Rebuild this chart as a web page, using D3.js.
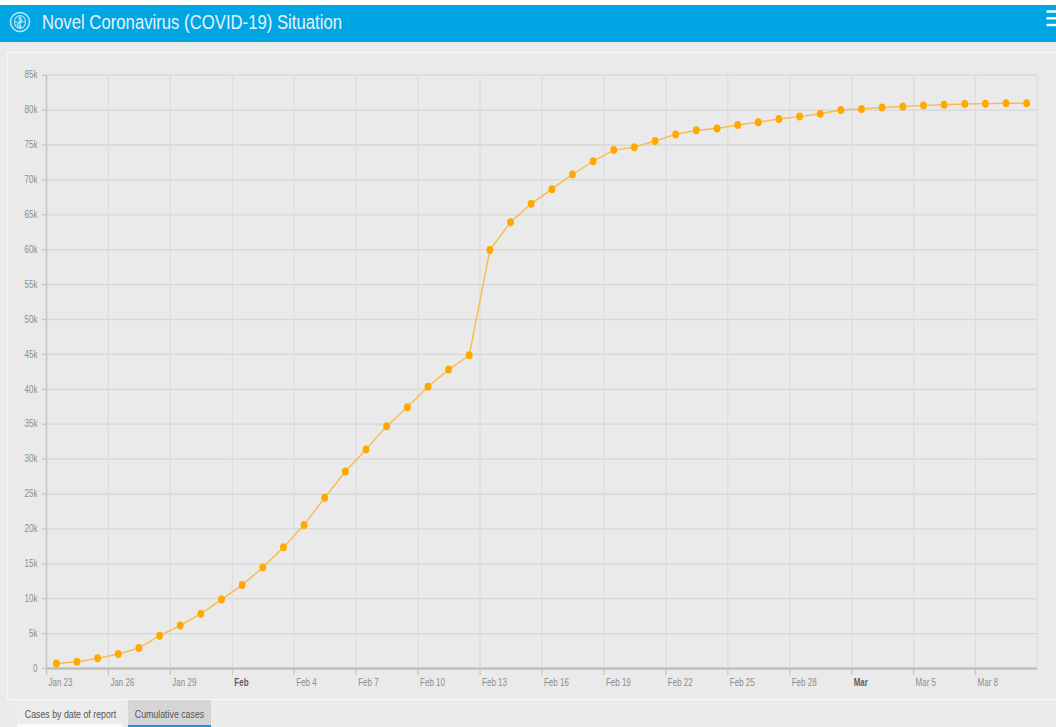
<!DOCTYPE html>
<html>
<head>
<meta charset="utf-8">
<script src="https://cdn.jsdelivr.net/npm/d3@7"></script>
<style>
  html, body { margin: 0; padding: 0; background: #ebebeb; }
  svg { display: block; }
  .cond { font-family: 'Liberation Sans', Arial, sans-serif; }
</style>
</head>
<body>
<svg id="chart" width="1056" height="727"></svg>
<script>
// ---------- data ----------
const dates = [
  "2020-01-23","2020-01-24","2020-01-25","2020-01-26","2020-01-27","2020-01-28","2020-01-29","2020-01-30","2020-01-31",
  "2020-02-01","2020-02-02","2020-02-03","2020-02-04","2020-02-05","2020-02-06","2020-02-07","2020-02-08","2020-02-09",
  "2020-02-10","2020-02-11","2020-02-12","2020-02-13","2020-02-14","2020-02-15","2020-02-16","2020-02-17","2020-02-18",
  "2020-02-19","2020-02-20","2020-02-21","2020-02-22","2020-02-23","2020-02-24","2020-02-25","2020-02-26","2020-02-27",
  "2020-02-28","2020-02-29","2020-03-01","2020-03-02","2020-03-03","2020-03-04","2020-03-05","2020-03-06","2020-03-07",
  "2020-03-08","2020-03-09","2020-03-10"
];
const cumulativeCases = [
  640, 900, 1380, 2000, 2850, 4620, 6100, 7760, 9800,
  11900, 14400, 17300, 20500, 24400, 28150, 31300, 34650, 37350,
  40300, 42750, 44800, 59900, 63850, 66500, 68600, 70700, 72600,
  74200, 74600, 75500, 76450, 77050, 77300, 77800, 78200, 78650,
  79000, 79400, 79950, 80100, 80300, 80450, 80600, 80700, 80800,
  80850, 80900, 80920
];
const xTickDates = ["2020-01-23","2020-01-26","2020-01-29","2020-02-01","2020-02-04","2020-02-07","2020-02-10",
  "2020-02-13","2020-02-16","2020-02-19","2020-02-22","2020-02-25","2020-02-28","2020-03-02","2020-03-05","2020-03-08"];
const xTickLabels = ["Jan 23","Jan 26","Jan 29","Feb","Feb 4","Feb 7","Feb 10","Feb 13","Feb 16","Feb 19",
  "Feb 22","Feb 25","Feb 28","Mar","Mar 5","Mar 8"];
const yTickValues = [0,5000,10000,15000,20000,25000,30000,35000,40000,45000,50000,55000,60000,65000,70000,75000,80000,85000];
const yTickLabels = ["0","5k","10k","15k","20k","25k","30k","35k","40k","45k","50k","55k","60k","65k","70k","75k","80k","85k"];
const monthLabels = ["Feb","Mar"];
const title = "Novel Coronavirus (COVID-19) Situation";
const tabs = ["Cases by date of report","Cumulative cases"];

// ---------- setup ----------
const svg = d3.select("#chart");
const W = 1056, H = 727;
const parse = d3.utcParse("%Y-%m-%d");
const HALF_DAY = 12 * 3600 * 1000;
const SX = 0.8; // horizontal squeeze to mimic a condensed face

// page background
svg.append("rect").attr("x",0).attr("y",0).attr("width",W).attr("height",H).attr("fill","#ebebeb");
svg.append("rect").attr("x",0).attr("y",0).attr("width",W).attr("height",5).attr("fill","#ffffff");

// header
svg.append("rect").attr("x",0).attr("y",5).attr("width",W).attr("height",37).attr("fill","#00a5e3");
// WHO emblem (simplified)
const logo = svg.append("g").attr("transform","translate(20,22)").attr("fill","none").attr("stroke","#e6f5fc").attr("opacity",0.8);
logo.append("circle").attr("r",9.5).attr("stroke-width",1.6);
logo.append("ellipse").attr("rx",5.5).attr("ry",6.5).attr("stroke-width",1.1);
logo.append("line").attr("x1",0).attr("y1",-7).attr("x2",0).attr("y2",7).attr("stroke-width",1.4);
logo.append("path").attr("d","M-2,-4 C3,-3 3,0 -1,1 C-4,2 -3,5 2,5").attr("stroke-width",1.2);
logo.append("line").attr("x1",-6).attr("y1",0).attr("x2",6).attr("y2",0).attr("stroke-width",0.9);
svg.append("text").attr("class","cond").attr("x",42).attr("y",28.5)
  .attr("font-size",20).attr("fill","#e4f4fc")
  .attr("textLength",300).attr("lengthAdjust","spacingAndGlyphs").text(title);
// hamburger
[11.5,18.3,25].forEach(y => {
  svg.append("rect").attr("x",1046.5).attr("y",y-1.2).attr("width",12).attr("height",2.4).attr("fill","#ffffff");
});

// panel
svg.append("rect").attr("x",7.5).attr("y",52.5).attr("width",1060).attr("height",647)
  .attr("fill","#eaeaea").attr("stroke","#f6f6f6").attr("stroke-width",1.2);

// ---------- scales ----------
const plotLeft = 46, plotRight = 1037, plotTop = 74.7, plotBottom = 668;
const x = d3.scaleUtc()
  .domain([parse("2020-01-23"), parse("2020-03-11")])
  .range([plotLeft, plotRight]);
const y = d3.scaleLinear().domain([0, 85000]).range([plotBottom, plotTop]);

// gridlines (horizontal)
const gy = svg.append("g").attr("transform",`translate(${plotLeft},0)`)
  .call(d3.axisLeft(y).tickValues(yTickValues).tickSize(-(plotRight-plotLeft)).tickFormat(""));
gy.select(".domain").remove();
gy.selectAll("line").attr("stroke","#d6d6d6").attr("stroke-width",1.3);

// gridlines (vertical)
const gx = svg.append("g").attr("transform",`translate(0,${plotBottom})`)
  .call(d3.axisBottom(x).tickValues(xTickDates.map(parse)).tickSize(-(plotBottom-plotTop)).tickFormat(""));
gx.select(".domain").remove();
gx.selectAll("line").attr("stroke","#dcdcdc").attr("stroke-width",1.2);

// right edge line
svg.append("line").attr("x1",plotRight).attr("x2",plotRight).attr("y1",plotTop).attr("y2",plotBottom)
  .attr("stroke","#dcdcdc").attr("stroke-width",1.2);

// y axis
const yAxis = svg.append("g").attr("transform",`translate(${plotLeft},0)`)
  .call(d3.axisLeft(y).tickValues(yTickValues).tickSize(4).tickPadding(4)
    .tickFormat((d,i) => yTickLabels[i]));
yAxis.select(".domain").attr("stroke","#c4c4c4").attr("stroke-width",1.5).attr("d",`M0.5,${plotTop}V${plotBottom}`);
yAxis.selectAll("line").attr("stroke","#c4c4c4").attr("stroke-width",1.2);
yAxis.selectAll("text").attr("class","cond").attr("font-size",10).attr("fill","#8c8c8c")
  .attr("x",-8.5/SX).attr("transform",`scale(${SX},1)`);

// x axis
const xAxis = svg.append("g").attr("transform",`translate(0,${plotBottom})`)
  .call(d3.axisBottom(x).tickValues(xTickDates.map(parse)).tickSize(7).tickPadding(3)
    .tickFormat((d,i) => xTickLabels[i]));
xAxis.select(".domain").attr("stroke","#b9b9b9").attr("stroke-width",1.8).attr("d",`M${plotLeft},0.5H${plotRight}`);
xAxis.selectAll("line").attr("stroke","#c4c4c4").attr("stroke-width",1.2);
xAxis.selectAll("text").attr("class","cond").attr("font-size",10)
  .attr("text-anchor","start").attr("x",2/SX).attr("dy","0.85em")
  .attr("transform",`scale(${SX},1)`)
  .attr("fill",(d,i) => monthLabels.includes(xTickLabels[i]) ? "#5e5e5e" : "#8c8c8c")
  .attr("font-weight",(d,i) => monthLabels.includes(xTickLabels[i]) ? "bold" : "normal");

// ---------- series ----------
const series = dates.map((d,i) => ({ date: new Date(parse(d).getTime() + HALF_DAY), value: cumulativeCases[i] }));
const line = d3.line().x(d => x(d.date)).y(d => y(d.value));
svg.append("path").datum(series).attr("d",line)
  .attr("fill","none").attr("stroke","#f9bb48").attr("stroke-width",1.4);
svg.append("g").selectAll("ellipse").data(series).join("ellipse")
  .attr("cx",d => x(d.date)).attr("cy",d => y(d.value))
  .attr("rx",3.4).attr("ry",4).attr("fill","#ffa800");

// ---------- tabs ----------
const tabG = svg.append("g");
tabG.append("rect").attr("x",17).attr("y",701).attr("width",106).attr("height",26).attr("fill","#ececec");
tabG.append("rect").attr("x",17).attr("y",724).attr("width",106).attr("height",3).attr("fill","#fafafa");
tabG.append("rect").attr("x",128).attr("y",700).attr("width",83).attr("height",27).attr("fill","#d5d5d5");
tabG.append("rect").attr("x",128).attr("y",725).attr("width",83).attr("height",2).attr("fill","#139ad6");
tabG.append("text").attr("class","cond").attr("font-size",11).attr("fill","#555555")
  .attr("text-anchor","middle").attr("transform",`translate(70.5,717.5) scale(${SX},1)`).text(tabs[0]);
tabG.append("text").attr("class","cond").attr("font-size",11).attr("fill","#555555")
  .attr("text-anchor","middle").attr("transform",`translate(169.5,717.5) scale(${SX},1)`).text(tabs[1]);
</script>
</body>
</html>
